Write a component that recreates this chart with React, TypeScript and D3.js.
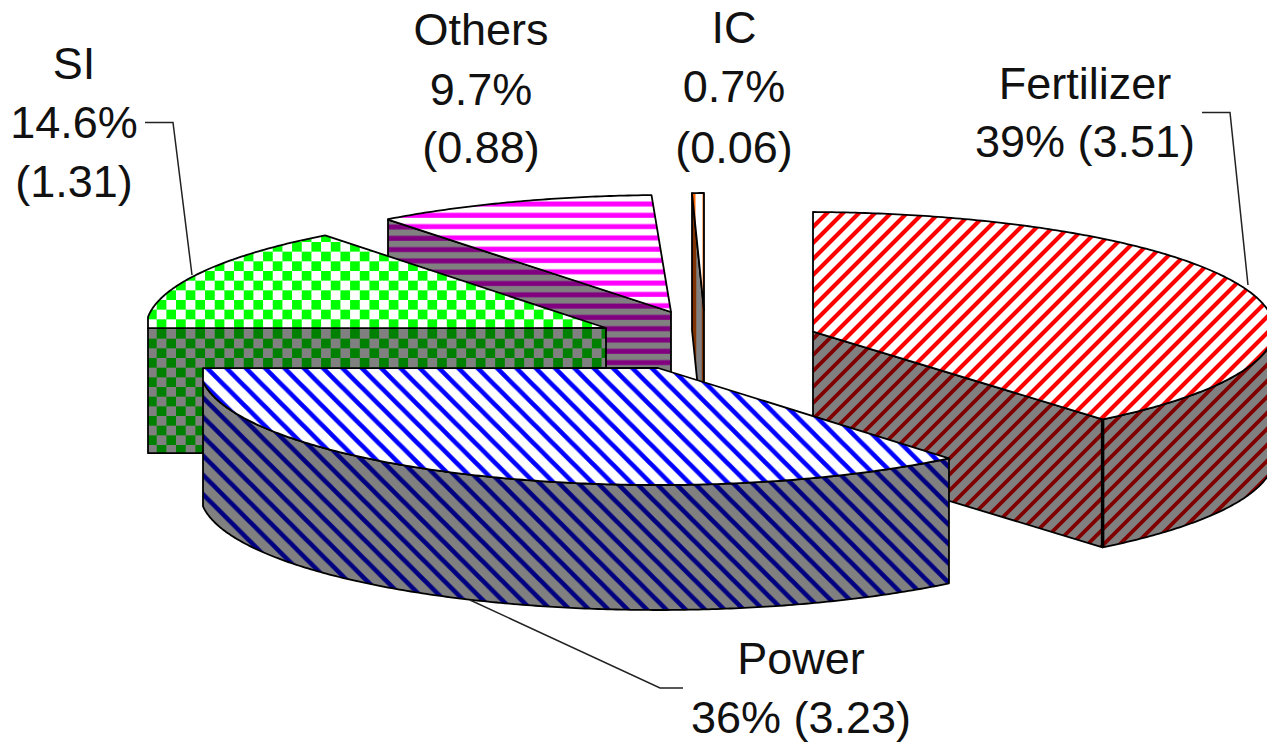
import React from "react";
import * as d3 from "d3";

// Nitrogen consumption by sector, exploded 3-D pie
const categories = ["Fertilizer", "Power", "SI", "Others", "IC"];
const amounts = [3.51, 3.23, 1.31, 0.88, 0.06];
const shareLabels = ["39%", "36%", "14.6%", "9.7%", "0.7%"];

const WIDTH = 1267;
const HEIGHT = 744;
const RY = 117;

type Pt = [number, number];

// Where each wedge sits once pulled out of the pie, keyed by category.
const placement: Record<string, { cx: number; cy: number; rx: number; depth: number; xMin?: number }> = {
  Fertilizer: { cx: 804, cy: 329, rx: 470, depth: 128, xMin: 813 },
  Power: { cx: 658, cy: 368, rx: 458, depth: 125, xMin: 203 },
  SI: { cx: 606, cy: 328, rx: 460, depth: 125, xMin: 148 },
  Others: { cx: 671, cy: 312, rx: 465, depth: 125, xMin: 388 },
  IC: { cx: 704, cy: 310, rx: 286, depth: 137 },
};

// Top face and side wall fills per category.
const fills: Record<string, { top: string; side: string }> = {
  Fertilizer: { top: "url(#fertTop)", side: "url(#fertSide)" },
  Power: { top: "url(#powerTop)", side: "url(#powerSide)" },
  SI: { top: "url(#siTop)", side: "url(#siSide)" },
  Others: { top: "url(#othersTop)", side: "url(#othersSide)" },
  IC: { top: "url(#icTop)", side: "url(#icSide)" },
};

// Label text blocks: centre x and baselines of each line.
const labelLines: Record<string, { x: number; ys: number[]; lines: (s: string, v: string) => string[] }> = {
  Fertilizer: { x: 1085, ys: [99, 157], lines: (s, v) => ["Fertilizer", `${s} ${v}`] },
  Power: { x: 801, ys: [674, 733], lines: (s, v) => ["Power", `${s} ${v}`] },
  SI: { x: 74, ys: [79, 138, 197], lines: (s, v) => ["SI", s, v] },
  Others: { x: 481, ys: [45, 105, 163], lines: (s, v) => ["Others", s, v] },
  IC: { x: 734, ys: [43, 102, 163], lines: (s, v) => ["IC", s, v] },
};

// Leader lines from labels to wedges.
const leaders: Pt[][] = [
  [[145, 122.5], [173, 122.5], [192, 275]],
  [[1202, 112.5], [1230, 112.5], [1248, 285]],
  [[470, 600], [660, 688], [683, 688]],
];

const rimPoint = (p: { cx: number; cy: number; rx: number }, a: number): Pt => [
  p.cx + p.rx * Math.sin(a),
  p.cy - RY * Math.cos(a),
];

// Cuts a polygon against vertical limit x >= xMin.
function clipLeft(pts: Pt[], xMin?: number): Pt[] {
  if (xMin === undefined) return pts;
  const out: Pt[] = [];
  pts.forEach((cur, i) => {
    const prev = pts[(i + pts.length - 1) % pts.length];
    const curIn = cur[0] >= xMin;
    const prevIn = prev[0] >= xMin;
    if (curIn !== prevIn) {
      const t = (xMin - prev[0]) / (cur[0] - prev[0]);
      out.push([xMin, prev[1] + t * (cur[1] - prev[1])]);
    }
    if (curIn) out.push(cur);
  });
  return out;
}

const lineGen = d3.line<Pt>();
const closed = (pts: Pt[]) => (pts.length ? lineGen(pts) + "Z" : "");

const arcs = d3.pie<number>().sort(null).value((d) => d)(amounts);

function arcPoints(p: { cx: number; cy: number; rx: number }, a0: number, a1: number): Pt[] {
  const n = Math.max(2, Math.ceil(Math.abs(a1 - a0) / 0.01));
  return d3.range(n + 1).map((i) => rimPoint(p, a0 + ((a1 - a0) * i) / n));
}

function wedgeShapes(i: number) {
  const name = categories[i];
  const p = placement[name];
  const { startAngle: a0, endAngle: a1 } = arcs[i];
  const down = (q: Pt): Pt => [q[0], q[1] + p.depth];
  const centre: Pt = [p.cx, p.cy];
  const top = clipLeft([centre, ...arcPoints(p, a0, a1)], p.xMin);

  const walls: Pt[][] = [];
  const radial = (a: number) => {
    const r = rimPoint(p, a);
    walls.push(clipLeft([centre, r, down(r), down(centre)], p.xMin));
  };
  if (a0 > Math.PI) radial(a0);
  if (a1 < Math.PI) radial(a1);
  const from = Math.max(a0, Math.PI / 2);
  const to = Math.min(a1, (3 * Math.PI) / 2);
  if (to > from) {
    const rim = arcPoints(p, from, to);
    walls.push(clipLeft([...rim, ...rim.slice().reverse().map(down)], p.xMin));
  }
  return { name, top, walls };
}

// Back-to-front drawing order.
const drawOrder = ["Others", "IC", "SI", "Fertilizer", "Power"];

function Stripes({ id, bg, fg, size, d, sw, x = 0, y = 0 }: { id: string; bg: string; fg: string; size: number; d: string; sw: number; x?: number; y?: number }) {
  return (
    <pattern id={id} patternUnits="userSpaceOnUse" width={size} height={size} x={x} y={y}>
      <rect width={size} height={size} fill={bg} />
      <path d={d} stroke={fg} strokeWidth={sw} fill="none" />
    </pattern>
  );
}

const forward = (s: number) => `M${-s / 2},${s / 2}L${s / 2},${-s / 2}M0,${s}L${s},0M${s / 2},${(3 * s) / 2}L${(3 * s) / 2},${s / 2}`;
const backward = (s: number) => `M${-s / 2},${s / 2}L${s / 2},${(3 * s) / 2}M0,0L${s},${s}M${s / 2},${-s / 2}L${(3 * s) / 2},${s / 2}`;

function Checks({ id, bg, fg, cell, x, y }: { id: string; bg: string; fg: string; cell: number; x: number; y: number }) {
  return (
    <pattern id={id} patternUnits="userSpaceOnUse" width={cell * 2} height={cell * 2} x={x} y={y}>
      <rect width={cell * 2} height={cell * 2} fill={bg} />
      <rect width={cell} height={cell} fill={fg} />
      <rect x={cell} y={cell} width={cell} height={cell} fill={fg} />
    </pattern>
  );
}

export default function App() {
  const fertEdge = rimPoint(placement.Fertilizer, arcs[0].endAngle);
  return (
    <svg
      width={WIDTH}
      height={HEIGHT}
      viewBox={`0 0 ${WIDTH} ${HEIGHT}`}
      style={{ position: "absolute", left: 0, top: 0, background: "#fff" }}
    >
      <defs>
        <Stripes id="fertTop" bg="#fff" fg="#ff0000" size={16} d={forward(16)} sw={4.2} />
        <Stripes id="fertSide" bg="#808080" fg="#800000" size={16} d={forward(16)} sw={3.8} />
        <Stripes id="powerTop" bg="#fff" fg="#0000ff" size={19.33} d={backward(19.33)} sw={4.6} x={13} />
        <Stripes id="powerSide" bg="#808080" fg="#000080" size={19.33} d={backward(19.33)} sw={4.6} x={18} />
        <Checks id="siTop" bg="#fff" fg="#00ff00" cell={9.67} x={156.7} y={319.33} />
        <Checks id="siSide" bg="#808080" fg="#008000" cell={9.67} x={156.7} y={329} />
        <Stripes id="othersTop" bg="#fff" fg="#ff00ff" size={11.3} d="M0,3L11.3,3" sw={5} y={201} />
        <Stripes id="othersSide" bg="#808080" fg="#800080" size={11.3} d="M0,3L11.3,3" sw={5} y={337} />
        <Stripes id="icTop" bg="#fff" fg="#ff6600" size={10} d="M3,0L3,10" sw={3} x={691} />
        <Stripes id="icSide" bg="#808080" fg="#803300" size={10} d="M3,0L3,10" sw={4.5} x={691} />
      </defs>

      {drawOrder.map((name) => {
        const s = wedgeShapes(categories.indexOf(name));
        return (
          <g key={name} stroke="#000" strokeWidth={1.8} strokeLinejoin="round">
            {s.walls.map((w, i) => (
              <path key={i} d={closed(w)} fill={fills[name].side} />
            ))}
            <path d={closed(s.top)} fill={fills[name].top} />
          </g>
        );
      })}

      <line
        x1={fertEdge[0]}
        y1={fertEdge[1]}
        x2={fertEdge[0]}
        y2={fertEdge[1] + placement.Fertilizer.depth}
        stroke="#000"
        strokeWidth={3.5}
      />

      {leaders.map((pts, i) => (
        <path key={i} d={lineGen(pts) ?? ""} fill="none" stroke="#222" strokeWidth={1.5} />
      ))}

      {categories.map((name, i) => {
        const l = labelLines[name];
        const lines = l.lines(shareLabels[i], `(${amounts[i].toFixed(2)})`);
        return lines.map((t, j) => (
          <text
            key={`${name}-${j}`}
            x={l.x}
            y={l.ys[j]}
            textAnchor="middle"
            fontFamily="'Liberation Sans', Arial, sans-serif"
            fontSize={45}
            fill="#111"
          >
            {t}
          </text>
        ));
      })}
    </svg>
  );
}
